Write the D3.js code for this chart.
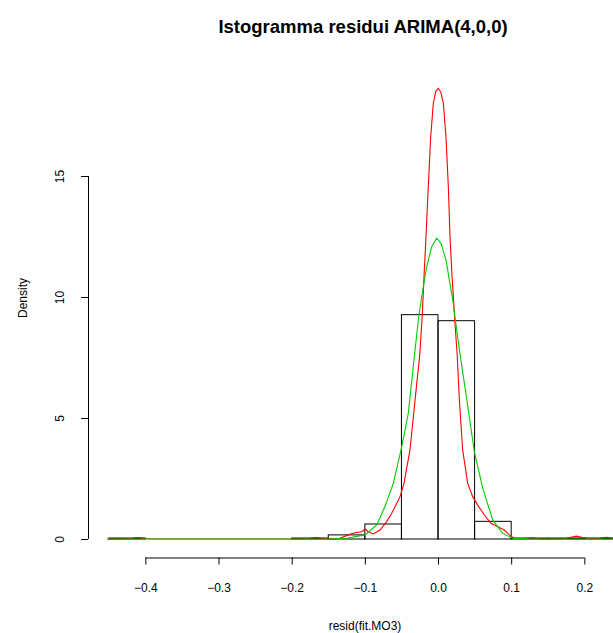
<!DOCTYPE html>
<html lang="en">
<head>
  <meta charset="UTF-8">
  <title>Istogramma residui ARIMA(4,0,0)</title>
  <script src="https://d3js.org/d3.v7.min.js"></script>
</head>

<body style="margin:0; background:white;">
  <div id="chart"></div>

  <style>
  svg { font-family: "Liberation Sans", Arial, sans-serif; }
  .axis text { font-size: 12px; fill: black; }
  .axis line { stroke: black; }
  .bar { fill: none; stroke: black; stroke-width: 1px; }
  .dens { fill: none; stroke-width: 1.1px; }
  </style>

  <script>

    var w = 613;
    var h = 633;

    // histogram: bin edges and density heights
    var binStart = [-0.45, -0.20, -0.15, -0.10, -0.05, 0.00, 0.05, 0.10, 0.15, 0.20];
    var binEnd   = [-0.40, -0.15, -0.10, -0.05, 0.00, 0.05, 0.10, 0.15, 0.20, 0.25];
    var binDensity = [0.04, 0.04, 0.17, 0.62, 9.27, 9.02, 0.73, 0.04, 0.04, 0.04];

    // kernel density (red)
    var kdeX = [-0.452, -0.43, -0.42, -0.41, -0.40, -0.39, -0.19, -0.178, -0.167, -0.156, -0.145,
                -0.134, -0.1226, -0.1135, -0.1043, -0.0998, -0.0953, -0.0884, -0.0793, -0.0701,
                -0.0633, -0.0565, -0.0519, -0.0465, -0.0383, -0.0314, -0.025, -0.0215, -0.0187,
                -0.0164, -0.0133, -0.010, -0.0064, -0.003, 0.0004, 0.004, 0.0073, 0.0109, 0.0141,
                0.0164, 0.0187, 0.023, 0.0262, 0.0292, 0.0337, 0.0406, 0.0474, 0.0542, 0.0634,
                0.0725, 0.0816, 0.0907, 0.0975, 0.104, 0.112, 0.120, 0.128, 0.136, 0.145, 0.172,
                0.180, 0.189, 0.198, 0.207, 0.218, 0.230, 0.24, 0.25, 0.29];
    var kdeY = [0.00, 0.00, 0.02, 0.06, 0.02, 0.00, 0.00, 0.02, 0.06, 0.02, 0.00,
                0.03, 0.17, 0.26, 0.30, 0.41, 0.30, 0.21, 0.37, 0.72,
                1.06, 1.47, 1.75, 2.30, 3.68, 5.74, 7.6, 9.26, 11.12,
                12.49, 14.56, 16.62, 18.0, 18.5, 18.62, 18.45, 18.0, 16.62, 14.56,
                12.49, 11.12, 9.0, 7.6, 5.74, 3.68, 2.30, 1.75, 1.40, 0.99,
                0.65, 0.51, 0.37, 0.17, 0.03, 0.01, 0.02, 0.05, 0.02, 0.00, 0.01,
                0.06, 0.12, 0.06, 0.01, 0.02, 0.07, 0.03, 0.01, 0.00];

    // normal curve (green)
    var normX = [-0.452, -0.15, -0.125, -0.0998, -0.0838, -0.0725, -0.0611, -0.0496, -0.0406,
                 -0.0325, -0.0269, -0.0223, -0.0155, -0.0086, -0.0018, 0.0041, 0.0109, 0.0155,
                 0.0201, 0.0255, 0.0303, 0.0406, 0.0497, 0.0611, 0.0747, 0.0884, 0.102, 0.13, 0.29];
    var normY = [0.00, 0.00, 0.03, 0.17, 0.58, 1.34, 2.30, 3.81, 5.2,
                 7.5, 9.05, 10.01, 11.25, 12.08, 12.43, 12.22, 11.53, 10.70,
                 9.88, 8.64, 7.6, 5.5, 3.6, 2.1, 0.79, 0.23, 0.03, 0.00, 0.00];

    var xTicks = [-0.4, -0.3, -0.2, -0.1, 0.0, 0.1, 0.2];
    var yTicks = [0, 5, 10, 15];

    var svg = d3.select("#chart").append("svg")
         .attr("width", w)
         .attr("height", h);

    var x = d3.scaleLinear()
          .domain([-0.478, 0.278])
          .range([88.3, 641.4]);

    var y = d3.scaleLinear()
          .domain([0, 15])
          .range([539, 176]);

    // bars
    svg.selectAll(".bar")
      .data(binStart)
      .enter().append("rect")
      .attr("class", "bar")
      .attr("x", function(d) { return x(d); })
      .attr("width", function(d, i) { return x(binEnd[i]) - x(d); })
      .attr("y", function(d, i) { return y(binDensity[i]); })
      .attr("height", function(d, i) { return y(0) - y(binDensity[i]); });

    var lineGenerator = d3.line()
                    .x(function(d) { return x(d[0]); })
                    .y(function(d) { return y(d[1]); });

    svg.append("path")
      .attr("class", "dens")
      .attr("stroke", "#ff0000")
      .attr("d", lineGenerator(d3.zip(kdeX, kdeY)));

    svg.append("path")
      .attr("class", "dens")
      .attr("stroke", "#00cd00")
      .attr("d", lineGenerator(d3.zip(normX, normY)));

    // x axis
    var xAxis = d3.axisBottom(x)
          .tickValues(xTicks)
          .tickSize(7)
          .tickPadding(19)
          .tickFormat(d3.format(".1f"));

    var gx = svg.append("g")
      .attr("class", "axis")
      .attr("transform", "translate(0,557.5)")
      .call(xAxis);
    gx.select(".domain").remove();
    gx.append("line")
      .attr("x1", x(xTicks[0])).attr("x2", x(xTicks[xTicks.length - 1]))
      .attr("y1", 0.5).attr("y2", 0.5);

    // y axis
    var yAxis = d3.axisLeft(y)
          .tickValues(yTicks)
          .tickSize(7);

    var gy = svg.append("g")
      .attr("class", "axis")
      .attr("transform", "translate(88,0)")
      .call(yAxis);
    gy.select(".domain").remove();
    gy.append("line")
      .attr("x1", 0.5).attr("x2", 0.5)
      .attr("y1", y(0)).attr("y2", y(15));
    gy.selectAll(".tick text")
      .attr("x", null).attr("dy", null)
      .attr("text-anchor", "middle")
      .attr("transform", "translate(-28,0) rotate(-90)")
      .attr("dy", "0.35em");

    // titles
    svg.append("text")
      .attr("x", 363).attr("y", 33)
      .attr("text-anchor", "middle")
      .style("font-size", "18.5px")
      .style("font-weight", "bold")
      .text("Istogramma residui ARIMA(4,0,0)");

    svg.append("text")
      .attr("x", 365).attr("y", 630)
      .attr("text-anchor", "middle")
      .style("font-size", "12px")
      .text("resid(fit.MO3)");

    svg.append("text")
      .attr("transform", "translate(27,298) rotate(-90)")
      .attr("text-anchor", "middle")
      .style("font-size", "12px")
      .text("Density");

  </script>
</body>
</html>
